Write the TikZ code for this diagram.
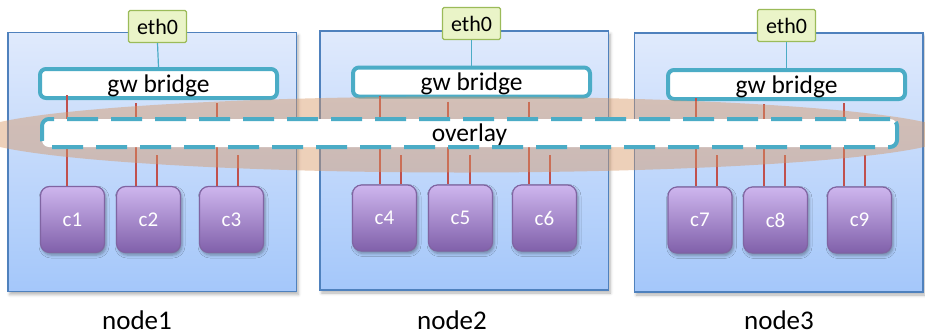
\documentclass[tikz,border=0pt]{standalone}
\usepackage{fontspec}
\setmainfont{Carlito}
\usetikzlibrary{shadows.blur,calc}

\definecolor{hostedge}{RGB}{79,129,189}
\definecolor{hosttop}{RGB}{224,234,252}
\definecolor{hostbot}{RGB}{164,199,250}
\definecolor{bridgeteal}{RGB}{75,172,198}
\definecolor{ethedge}{RGB}{155,187,89}
\definecolor{ethfill}{RGB}{234,244,200}
\definecolor{conttop}{RGB}{206,182,238}
\definecolor{contbot}{RGB}{128,96,170}
\definecolor{contedge}{RGB}{128,100,162}
\definecolor{linkred}{RGB}{192,80,77}
\definecolor{hazecol}{RGB}{215,150,100}

\begin{document}
\begin{tikzpicture}[x=1pt,y=-1pt,
  host/.style={draw=hostedge, line width=1.5pt, top color=hosttop, bottom color=hostbot,
    minimum width=288.5pt, minimum height=259pt, inner sep=0pt,
    blur shadow={shadow xshift=2pt, shadow yshift=-3pt, shadow blur radius=3pt, shadow opacity=30}},
  eth/.style={draw=ethedge, line width=1.2pt, fill=ethfill, rounded corners=1.5pt,
    minimum width=58pt, minimum height=32pt, inner sep=0pt,
    font=\fontsize{22}{24}\selectfont, text depth=0pt},
  bridge/.style={draw=bridgeteal, line width=4pt, fill=white, rounded corners=6pt,
    minimum width=237pt, minimum height=29pt, inner sep=0pt,
    font=\fontsize{25.5}{28}\selectfont, text depth=0pt},
  overlaybox/.style={draw=bridgeteal, line width=4pt, fill=white, rounded corners=7pt,
    dash pattern=on 31pt off 13pt, minimum width=855pt, minimum height=28pt, inner sep=0pt,
    font=\fontsize{25.5}{28}\selectfont, text depth=0pt},
  cont/.style={draw=contedge, line width=1.2pt, top color=conttop, bottom color=contbot,
    rounded corners=9pt, minimum width=64pt, minimum height=66pt, inner sep=0pt,
    text=white, font=\fontsize{21}{24}\selectfont,
    blur shadow={shadow xshift=1.5pt, shadow yshift=-2.5pt, shadow blur radius=3pt, shadow opacity=35}},
  hostlabel/.style={anchor=base, inner sep=0pt, font=\fontsize{27}{30}\selectfont},
  link/.style={draw=linkred, line width=1.6pt},
  uplink/.style={draw=bridgeteal, line width=1.2pt}]

\useasboundingbox (0,0) rectangle (925,335);

% hosts
\node[host] (n1) at (152,162) {};
\node[host] (n2) at (464,160.5) {};
\node[host] (n3) at (778.5,162.5) {};

% gateway bridges
\node[bridge] (gw1) at (158.5,83.5) {gw bridge};
\node[bridge] (gw2) at (471.5,82) {gw bridge};
\node[bridge] (gw3) at (786.5,84.5) {gw bridge};

% physical interfaces
\node[eth] (e1) at (157.5,26.5) {eth0};
\node[eth] (e2) at (471.5,23.5) {eth0};
\node[eth] (e3) at (786.5,25.5) {eth0};
\foreach \i in {1,2,3}
  \draw[uplink] (e\i.south) -- (gw\i.north);

% containers
\node[cont] (c1) at (72.5,219.5) {c1};
\node[cont] (c2) at (148.5,219.5) {c2};
\node[cont] (c3) at (231.5,219.5) {c3};
\node[cont] (c4) at (384.5,218) {c4};
\node[cont] (c5) at (460.5,218) {c5};
\node[cont] (c6) at (544.5,218) {c6};
\node[cont] (c7) at (700,220) {c7};
\node[cont] (c8) at (775.5,220) {c8};
\node[cont] (c9) at (859.5,220) {c9};

% bridge-to-container wiring, crossing the overlay
\foreach \g/\c/\x/\dy in {gw1/c1/67/-5, gw1/c2/136/3, gw1/c3/217/3,
                          gw2/c4/380/-3, gw2/c5/448/3, gw2/c6/529/3,
                          gw3/c7/696/-3, gw3/c8/764/3, gw3/c9/844/2}
  \draw[link] ($(\g.south -| \x,0)+(0,\dy)$) -- (\c.north -| \x,0);
% overlay-side interfaces of the containers
\foreach \c/\x/\len in {c2/157/31, c3/238/31, c4/401/29, c5/470/29, c6/550/29,
                        c7/717/31, c8/785/31, c9/865/31}
  \draw[link] (\c.north -| \x,0) -- ++(0,-\len);

% translucent band behind the overlay
\fill[hazecol, opacity=0.45] (462,134.5) ellipse [x radius=489, y radius=38];

% overlay network spanning all hosts
\node[overlaybox] (ov) at (469.5,133) {overlay};

% host labels
\node[hostlabel] (l1) at (137,329) {node1};
\node[hostlabel] (l2) at (452,329) {node2};
\node[hostlabel] (l3) at (779,329) {node3};

\end{tikzpicture}
\end{document}
